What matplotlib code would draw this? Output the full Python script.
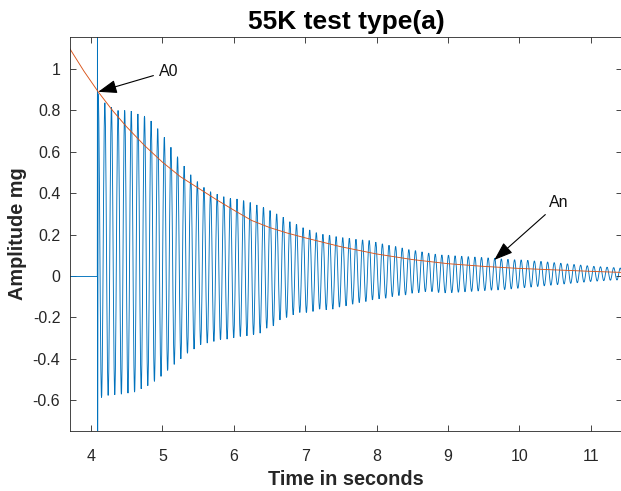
import numpy as np
import matplotlib
matplotlib.use("Agg")
import matplotlib.pyplot as plt
from matplotlib.path import Path
from matplotlib.patches import PathPatch

plt.rcParams['font.family'] = ['Liberation Sans', 'DejaVu Sans']

# ---- data ----
# quiet part before the impact
pre_time = [3.70, 4.088]
pre_amp = [0.0, 0.0]
# impact spike (clipped by the axes) and first peak A0
spike_time = [4.088, 4.090, 4.092, 4.100]
spike_amp = [0.0, 1.50, -1.00, 0.88]
# oscillation: successive troughs / peaks, half-period spacing
osc_start = 4.147
half_period = 0.0463
lower_peaks = [-0.588, -0.578, -0.575, -0.572, -0.567, -0.562, -0.546, -0.531, -0.510, -0.486,
               -0.457, -0.428, -0.401, -0.374, -0.354, -0.333, -0.325, -0.317, -0.309, -0.306,
               -0.300, -0.293, -0.290, -0.285,
               -0.277, -0.253, -0.242, -0.213, -0.201, -0.188, -0.177, -0.177, -0.172, -0.161,
               -0.164, -0.161, -0.151, -0.145, -0.137, -0.129, -0.124, -0.116, -0.111, -0.108,
               -0.100, -0.095, -0.092, -0.084, -0.081, -0.076, -0.076, -0.080,
               -0.082, -0.081, -0.079, -0.077, -0.075, -0.073, -0.071, -0.069, -0.068, -0.066,
               -0.063, -0.060, -0.057, -0.054, -0.051, -0.048, -0.045, -0.042, -0.039, -0.036,
               -0.033, -0.030, -0.027, -0.025, -0.023, -0.021, -0.020, -0.019]
upper_peaks = [0.837, 0.815, 0.800, 0.800, 0.797, 0.783, 0.773, 0.749, 0.712, 0.670,
               0.622, 0.576, 0.531, 0.489, 0.456, 0.428, 0.407, 0.395, 0.383, 0.375,
               0.372, 0.364, 0.355, 0.343,
               0.332, 0.316, 0.300, 0.284, 0.262, 0.250, 0.233, 0.222, 0.209, 0.201,
               0.197, 0.190, 0.185, 0.182, 0.177, 0.174, 0.171, 0.163, 0.155, 0.148,
               0.142, 0.135, 0.127, 0.122, 0.116, 0.110, 0.105, 0.101, 0.100, 0.097,
               0.095, 0.093, 0.091, 0.089, 0.087, 0.085, 0.082, 0.080, 0.078, 0.077,
               0.075, 0.072, 0.070, 0.067, 0.064, 0.061, 0.058, 0.055, 0.052, 0.049,
               0.046, 0.044, 0.042, 0.040, 0.038, 0.037]
# exponential envelope (red curve) read at these times
env_time = [3.70, 3.90, 4.10, 4.30, 4.50, 4.75, 5.00, 5.25, 5.50, 5.75, 6.00, 6.25,
            6.50, 6.75, 7.00, 7.50, 8.00, 8.50, 9.00, 9.50, 10.00, 10.50, 11.00, 11.50]
env_amp = [1.100, 0.990, 0.890, 0.800, 0.720, 0.630, 0.550, 0.480, 0.425, 0.370, 0.318, 0.268,
           0.234, 0.207, 0.184, 0.141, 0.106, 0.079, 0.059, 0.046, 0.036, 0.029, 0.022, 0.016]

title = "55K test type(a)"
xlabel = "Time in seconds"
ylabel = "Amplitude mg"
xticks = [4, 5, 6, 7, 8, 9, 10, 11]
yticks = [-0.6, -0.4, -0.2, 0, 0.2, 0.4, 0.6, 0.8, 1]
ytick_labels = ["-0.6", "-0.4", "-0.2", "0", "0.2", "0.4", "0.6", "0.8", "1"]
annotations = [("A0", (4.10, 0.89), (4.95, 0.99)), ("An", (9.65, 0.077), (10.42, 0.355))]

BLUE = '#0072BD'
RED = '#D95319'
LW = 0.65

# ---- assemble oscillation (peak sequence) ----
n = len(lower_peaks)
osc_amp = np.empty(2 * n)
osc_amp[0::2] = lower_peaks
osc_amp[1::2] = upper_peaks
osc_time = osc_start + half_period * np.arange(2 * n)
ext_t = np.concatenate([[spike_time[-1]], osc_time])
ext_y = np.concatenate([[spike_amp[-1]], osc_amp])

# ---- plot ----
fig = plt.figure(figsize=(6.21, 4.91), dpi=100)
ax = fig.add_axes([70 / 621, 60 / 491, 552 / 621, 394 / 491])

ax.plot(pre_time, pre_amp, color=BLUE, lw=LW)
ax.plot(spike_time, spike_amp, color=BLUE, lw=LW)

# smooth half-wave curves between successive extrema (cubic Bezier, horizontal tangents)
k = 0.3634
verts = [(ext_t[0], ext_y[0])]
codes = [Path.MOVETO]
for i in range(len(ext_t) - 1):
    t0, y0, t1, y1 = ext_t[i], ext_y[i], ext_t[i + 1], ext_y[i + 1]
    dt = t1 - t0
    verts += [(t0 + k * dt, y0), (t1 - k * dt, y1), (t1, y1)]
    codes += [Path.CURVE4] * 3
ax.add_patch(PathPatch(Path(verts, codes), fill=False, edgecolor=BLUE, lw=LW))

ax.plot(env_time, env_amp, color=RED, lw=LW)

for label, xy, xytext in annotations:
    ax.annotate(label, xy=xy, xytext=xytext, fontsize=11.5, color='#111111',
                va='center', ha='left',
                arrowprops=dict(arrowstyle='-|>,head_length=1.0,head_width=0.36',
                                color='black', lw=0.8, shrinkA=2, shrinkB=0))

ax.set_xlim(3.705, 11.44)
ax.set_ylim(-0.75, 1.155)
ax.set_xticks(xticks)
ax.set_yticks(yticks)
ax.set_yticklabels(ytick_labels)
ax.tick_params(direction='in', length=4, width=0.6, color='#262626',
               labelcolor='#262626', labelsize=11.5, top=True, right=True)
ax.tick_params(axis='x', pad=13)
ax.tick_params(axis='y', pad=7)
for s in ax.spines.values():
    s.set_color('#262626')
    s.set_linewidth(0.6)

ax.set_title(title, fontsize=19, fontweight='bold', color='black', pad=6)
ax.set_xlabel(xlabel, fontsize=14.3, fontweight='bold', color='#262626', labelpad=4)
ax.set_ylabel(ylabel, fontsize=14.3, fontweight='bold', color='#262626', labelpad=4)

fig.savefig("out.png", dpi=100)
